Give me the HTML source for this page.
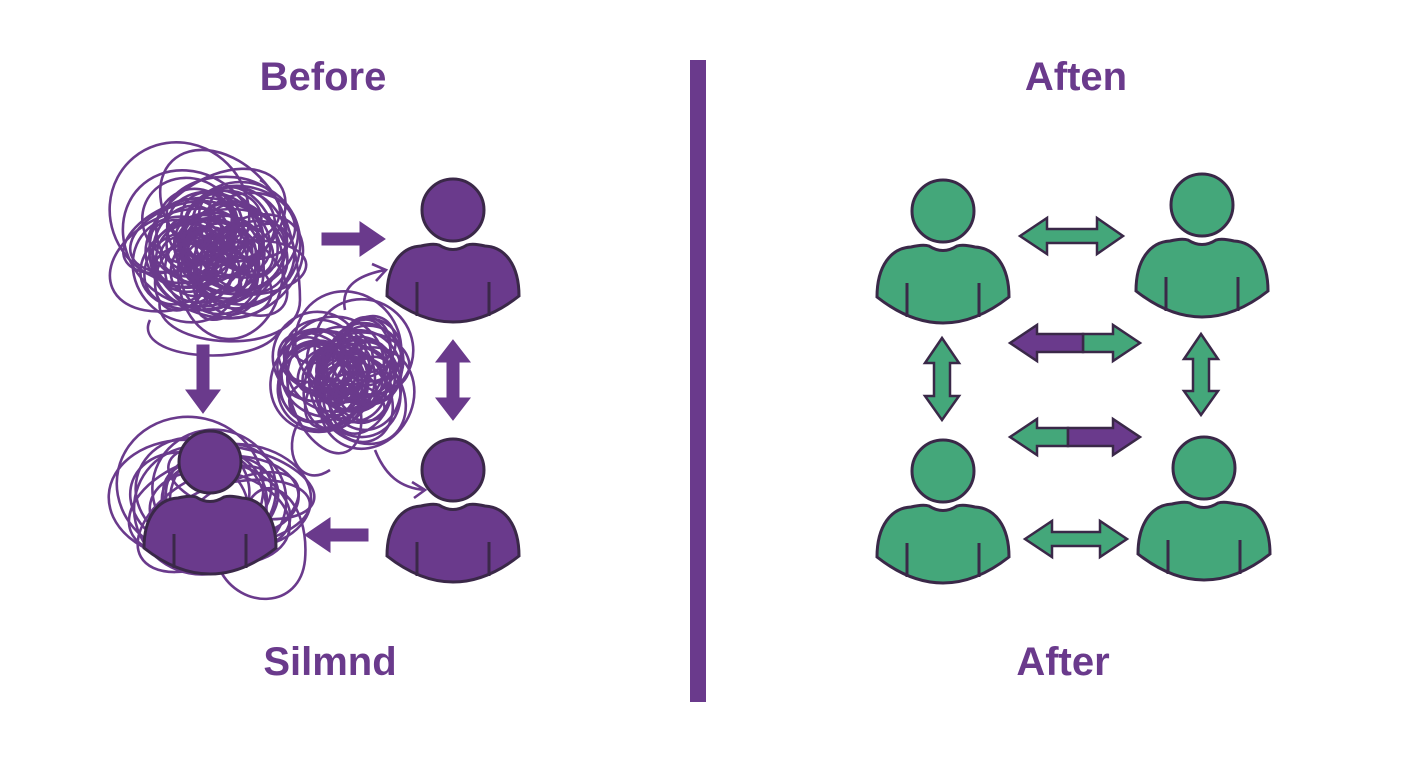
<!DOCTYPE html>
<html><head><meta charset="utf-8"><style>
body{margin:0;background:#fff;width:1408px;height:768px;overflow:hidden}
svg{display:block}
text{font-family:"Liberation Sans",sans-serif;font-weight:bold;font-size:40px;fill:#6a3a8c;text-anchor:middle}
</style></head><body>
<svg id="s" width="1408" height="768" viewBox="0 0 1408 768">
<defs>
<g id="p">
<path d="M-66 86 C-66 55 -52 37 -32 36 Q-20 33 -14 35 Q0 44 14 35 Q20 33 32 36 C52 37 66 55 66 86 Q0 138 -66 86 Z" stroke="#3a2848" stroke-width="3"/>
<circle cx="0" cy="0" r="31" stroke="#3a2848" stroke-width="3"/>
<path d="M-36 72 V106 M36 72 V106" stroke="#3a2848" stroke-width="3" fill="none"/>
</g>
</defs>
<text x="323" y="90">Before</text>
<text x="330" y="675">Silmnd</text>
<text x="1076" y="90">Aften</text>
<text x="1063" y="675">After</text>
<rect x="690" y="60" width="16" height="642" fill="#6a3a8c"/>
<g id="scr" fill="none" stroke="#6a3a8c" stroke-width="2.6"></g>
<g fill="#6a3a8c">
<use href="#p" x="453" y="210"/>
<use href="#p" x="453" y="470"/>
<use href="#p" x="210" y="462"/>
</g>
<g fill="#6a3a8c" stroke="#6a3a8c">
<path d="M322 233 H360 V222 L385 239 L360 256 V245 H322 Z"/>
<path d="M197 345 V390 H186 L203 413 L220 390 H209 V345 Z"/>
<path d="M453 340 L470 362 H459 V398 H470 L453 420 L436 398 H447 V362 H436 Z"/>
<path d="M368 529 H330 V518 L305 535 L330 552 V541 H368 Z"/>
<path d="M345 310 C340 285 360 275 385 270 M372 264 L386 270 L376 281" fill="none" stroke-width="2.6"/>
<path d="M375 450 C385 475 400 488 425 490 M412 482 L425 490 L414 498" fill="none" stroke-width="2.6"/>
</g>
<g stroke="#3a2848" stroke-width="2.5">
<g fill="#44a77a">
<use href="#p" x="943" y="211"/>
<use href="#p" x="1202" y="205"/>
<use href="#p" x="943" y="471"/>
<use href="#p" x="1204" y="468"/>
<path d="M1020 236 L1047 218 V229 H1097 V218 L1123 236 L1097 254 V243 H1047 V254 Z"/>
<path d="M1025 539 L1052 521 V532 H1100 V521 L1127 539 L1100 557 V546 H1052 V557 Z"/>
<path d="M942 338 L959 363 H950 V396 H959 L942 420 L925 396 H934 V363 H925 Z"/>
<path d="M1201 334 L1218 359 H1209 V391 H1218 L1201 415 L1184 391 H1193 V359 H1184 Z"/>
<path d="M1083 334 H1113 V325 L1140 343 L1113 361 V352 H1083 Z"/>
<path d="M1068 446 H1037 V455 L1010 437 L1037 419 V428 H1068 Z"/>
</g>
<g fill="#6a3a8c">
<path d="M1083 334 H1037 V325 L1010 343 L1037 361 V352 H1083 Z"/>
<path d="M1068 428 H1113 V419 L1140 437 L1113 455 V446 H1068 Z"/>
</g>
</g>
</svg>
<script>
var seed=11;function r(){seed=(seed*16807)%2147483647;return seed/2147483647;}
var g=document.getElementById('scr'),h='';
function ball(cx,cy,R,n){for(var i=0;i<n;i++){var rr=R*(0.3+0.55*r());var rx=rr*(0.6+0.6*r()),ry=rr*(0.5+0.6*r());var a=r()*180;var ox=(r()-0.5)*R*0.9,oy=(r()-0.5)*R*0.9;h+='<ellipse cx="'+(cx+ox)+'" cy="'+(cy+oy)+'" rx="'+rx+'" ry="'+ry+'" transform="rotate('+a+' '+(cx+ox)+' '+(cy+oy)+')"/>';}}
ball(215,248,80,60);ball(340,375,68,50);
for(var i=0;i<16;i++){var cx=215+(r()-0.5)*70,cy=505+(r()-0.5)*50;h+='<ellipse cx="'+cx+'" cy="'+cy+'" rx="'+(55+r()*30)+'" ry="'+(30+r()*40)+'" transform="rotate('+(r()*60-30)+' '+cx+' '+cy+')"/>';}
h+='<path d="M220 570 C240 610 300 610 305 560 C310 500 270 470 250 500"/>';
h+='<path d="M160 300 C150 350 300 360 300 300 C300 250 280 190 260 180"/>';
h+='<path d="M150 320 C130 360 260 370 280 330"/>';
h+='<path d="M300 420 C280 450 300 490 330 470"/>';
g.innerHTML=h;
</script>
</body></html>
